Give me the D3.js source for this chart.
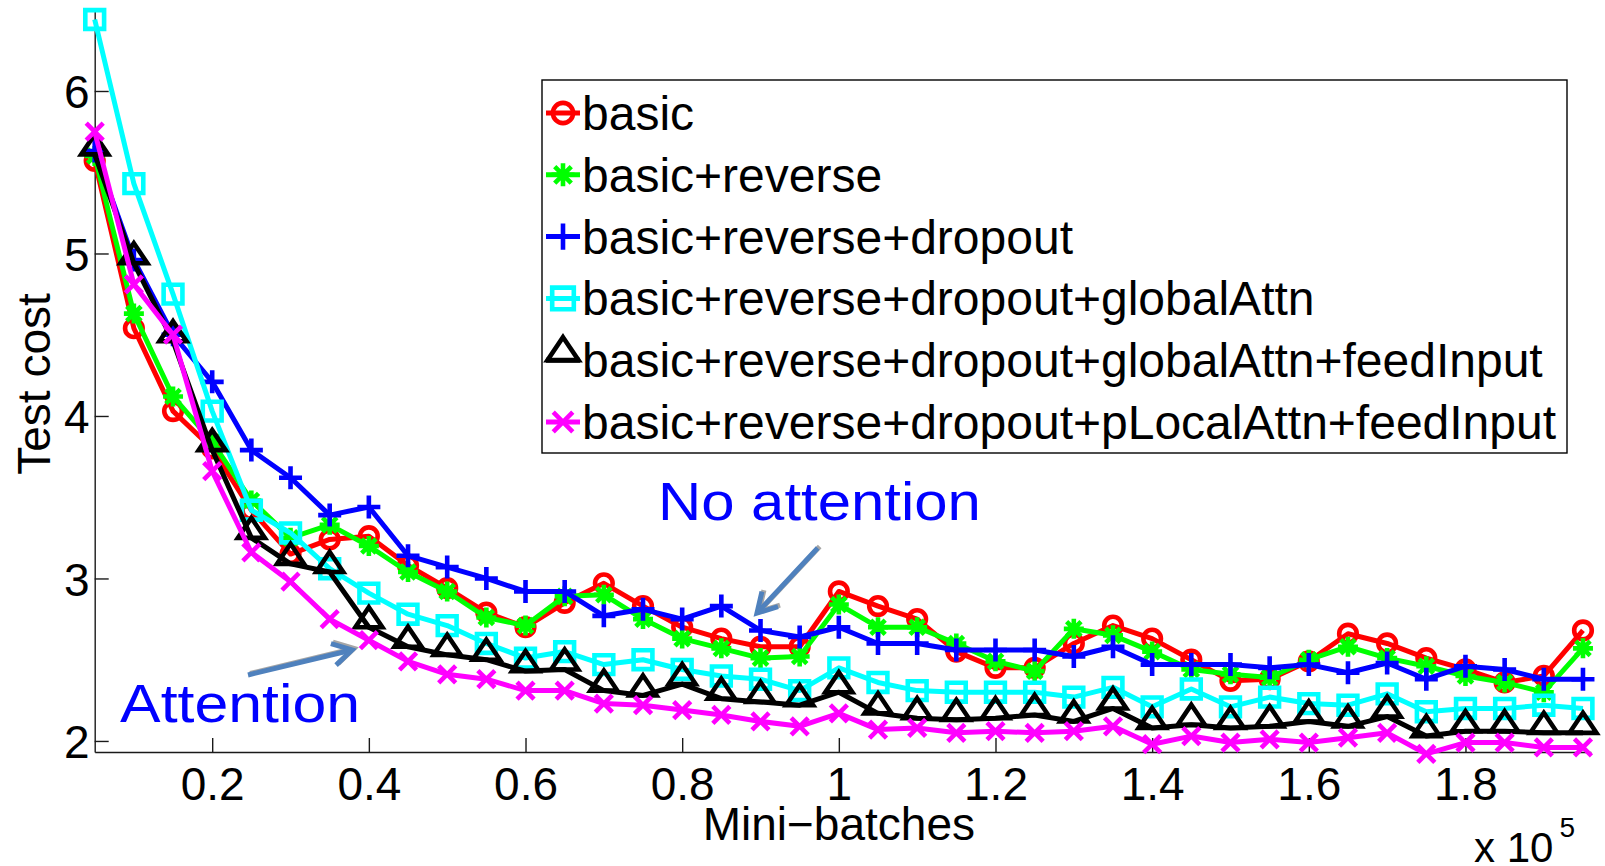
<!DOCTYPE html>
<html>
<head>
<meta charset="utf-8">
<script src="https://cdn.jsdelivr.net/npm/d3@7"></script>
<style>
  html, body { margin: 0; padding: 0; background: #ffffff; }
  svg { display: block; }
  text { font-family: "Liberation Sans", Arial, Helvetica, sans-serif; fill: #000; }
</style>
</head>
<body>
<svg id="chart" width="1605" height="866"></svg>
<script>
// Mini-batches (x 10^5)
const miniBatches = [0.05, 0.10, 0.15, 0.20, 0.25, 0.30, 0.35, 0.40, 0.45, 0.50,
                     0.55, 0.60, 0.65, 0.70, 0.75, 0.80, 0.85, 0.90, 0.95, 1.00,
                     1.05, 1.10, 1.15, 1.20, 1.25, 1.30, 1.35, 1.40, 1.45, 1.50,
                     1.55, 1.60, 1.65, 1.70, 1.75, 1.80, 1.85, 1.90, 1.95];

// Test cost per model
const basic = [5.57, 4.54, 4.03, 3.80, 3.42, 3.15, 3.24, 3.26, 3.08, 2.94,
               2.79, 2.70, 2.85, 2.97, 2.83, 2.70, 2.63, 2.58, 2.58, 2.92,
               2.83, 2.75, 2.55, 2.45, 2.45, 2.60, 2.71, 2.63, 2.50, 2.37,
               2.38, 2.49, 2.66, 2.60, 2.51, 2.44, 2.36, 2.40, 2.68];
const basicReverse = [5.60, 4.63, 4.12, 3.84, 3.48, 3.25, 3.33, 3.20, 3.04, 2.92,
                      2.76, 2.71, 2.89, 2.90, 2.75, 2.63, 2.57, 2.51, 2.52, 2.84,
                      2.70, 2.70, 2.60, 2.49, 2.43, 2.69, 2.65, 2.55, 2.44, 2.41,
                      2.39, 2.50, 2.58, 2.51, 2.46, 2.40, 2.36, 2.30, 2.57];
const basicReverseDropout = [5.63, 4.96, 4.50, 4.21, 3.79, 3.62, 3.39, 3.44, 3.14, 3.07,
                             3.00, 2.92, 2.92, 2.77, 2.81, 2.75, 2.83, 2.68, 2.64, 2.70,
                             2.60, 2.60, 2.56, 2.56, 2.56, 2.52, 2.58, 2.47, 2.47, 2.47,
                             2.45, 2.47, 2.42, 2.48, 2.38, 2.46, 2.44, 2.38, 2.38];
const globalAttn = [6.44, 5.43, 4.75, 4.03, 3.42, 3.28, 3.06, 2.91, 2.78, 2.71,
                    2.60, 2.51, 2.55, 2.47, 2.50, 2.44, 2.40, 2.38, 2.31, 2.45,
                    2.36, 2.31, 2.30, 2.30, 2.30, 2.27, 2.33, 2.21, 2.32, 2.21,
                    2.27, 2.23, 2.22, 2.29, 2.18, 2.20, 2.20, 2.22, 2.20];
const globalAttnFeedInput = [5.61, 4.94, 4.46, 3.79, 3.25, 3.09, 3.04, 2.70, 2.58, 2.53,
                             2.50, 2.43, 2.44, 2.31, 2.28, 2.35, 2.26, 2.24, 2.22, 2.30,
                             2.17, 2.14, 2.13, 2.14, 2.16, 2.12, 2.20, 2.08, 2.10, 2.08,
                             2.09, 2.12, 2.09, 2.15, 2.03, 2.06, 2.06, 2.05, 2.05];
const pLocalAttnFeedInput = [5.75, 4.81, 4.50, 3.66, 3.16, 2.98, 2.75, 2.62, 2.49, 2.41,
                             2.38, 2.31, 2.31, 2.23, 2.22, 2.19, 2.16, 2.12, 2.09, 2.17,
                             2.07, 2.08, 2.05, 2.06, 2.05, 2.06, 2.09, 1.98, 2.03, 1.99,
                             2.01, 1.99, 2.02, 2.05, 1.92, 1.99, 1.99, 1.96, 1.96];

const seriesNames = ["basic", "basic+reverse", "basic+reverse+dropout",
                     "basic+reverse+dropout+globalAttn",
                     "basic+reverse+dropout+globalAttn+feedInput",
                     "basic+reverse+dropout+pLocalAttn+feedInput"];
const seriesValues = [basic, basicReverse, basicReverseDropout, globalAttn,
                      globalAttnFeedInput, pLocalAttnFeedInput];
const seriesColors = ["#ff0000", "#00ff00", "#0000ff", "#00ffff", "#000000", "#ff00ff"];
const seriesMarkers = ["circle", "asterisk", "plus", "square", "triangle", "cross"];

const xTicks = [0.2, 0.4, 0.6, 0.8, 1.0, 1.2, 1.4, 1.6, 1.8];
const xTickLabels = ["0.2", "0.4", "0.6", "0.8", "1", "1.2", "1.4", "1.6", "1.8"];
const yTicks = [2, 3, 4, 5, 6];
const yTickLabels = ["2", "3", "4", "5", "6"];

const svg = d3.select("#chart");
const x = d3.scaleLinear().domain([0.05, 1.96]).range([94.7, 1590.8]);
const y = d3.scaleLinear().domain([1.932, 6.5]).range([752, 9.75]);

// ---- axes (ticks point inward, no box) ----
const axisColor = "#1a1a1a";
const yAxis = svg.append("g")
  .attr("transform", `translate(${x.range()[0]},0)`)
  .call(d3.axisLeft(y).tickValues(yTicks).tickFormat((d, i) => yTickLabels[i])
        .tickSizeInner(-14).tickSizeOuter(0).tickPadding(5));
const xAxis = svg.append("g")
  .attr("transform", `translate(0,${y.range()[0]})`)
  .call(d3.axisBottom(x).tickValues(xTicks).tickFormat((d, i) => xTickLabels[i])
        .tickSizeInner(-14).tickSizeOuter(0).tickPadding(5));
[xAxis, yAxis].forEach(g => {
  g.select(".domain").attr("stroke", axisColor).attr("stroke-width", 1.4);
  g.selectAll(".tick line").attr("stroke", axisColor).attr("stroke-width", 1.4);
  g.selectAll(".tick text")
    .attr("font-family", "'Liberation Sans', Arial, Helvetica, sans-serif")
    .attr("font-size", 46).attr("fill", "#000");
});
yAxis.selectAll(".tick text").attr("x", -5).attr("dy", 17);
xAxis.selectAll(".tick text").attr("y", 48).attr("dy", 0);

// axis titles
svg.append("text")
  .attr("transform", "translate(50,384) rotate(-90)")
  .attr("text-anchor", "middle").attr("font-size", 46)
  .text("Test cost");
svg.append("text")
  .attr("x", x(1.0)).attr("y", 840)
  .attr("text-anchor", "middle").attr("font-size", 46)
  .text("Mini\u2212batches");
const expLabel = svg.append("text").attr("x", 1474).attr("y", 862).attr("font-size", 42);
expLabel.append("tspan").text("x 10");
expLabel.append("tspan").attr("font-size", 28).attr("dy", -25).attr("dx", 6).text("5");

// ---- marker shapes ----
function markerPath(type, s) {
  const p = d3.path();
  switch (type) {
    case "circle":
      p.moveTo(8.8 * s, 0); p.arc(0, 0, 8.8 * s, 0, 2 * Math.PI); break;
    case "square": {
      const h = 9.4 * s;
      p.moveTo(-h, -h); p.lineTo(h, -h); p.lineTo(h, h); p.lineTo(-h, h); p.closePath(); break;
    }
    case "triangle":
      p.moveTo(0, -20 * s); p.lineTo(13.5 * s, 0); p.lineTo(-13.5 * s, 0); p.closePath(); break;
    case "plus": {
      const a = 11.5 * s;
      p.moveTo(-a, 0); p.lineTo(a, 0); p.moveTo(0, -a); p.lineTo(0, a); break;
    }
    case "cross": {
      const a = 8.5 * s;
      p.moveTo(-a, -a); p.lineTo(a, a); p.moveTo(-a, a); p.lineTo(a, -a); break;
    }
    case "asterisk": {
      const a = 10 * s, b = 7.2 * s;
      p.moveTo(-a, 0); p.lineTo(a, 0); p.moveTo(0, -a); p.lineTo(0, a);
      p.moveTo(-b, -b); p.lineTo(b, b); p.moveTo(-b, b); p.lineTo(b, -b); break;
    }
  }
  return p.toString();
}

// ---- series ----
const line = d3.line().x((d, i) => x(miniBatches[i])).y(d => y(d));
seriesValues.forEach((vals, si) => {
  const g = svg.append("g");
  g.append("path")
    .attr("d", line(vals))
    .attr("fill", "none")
    .attr("stroke", seriesColors[si])
    .attr("stroke-width", 5)
    .attr("stroke-linejoin", "round");
  g.selectAll("path.mk")
    .data(vals)
    .join("path")
    .attr("class", "mk")
    .attr("transform", (d, i) => `translate(${x(miniBatches[i])},${y(d)})`)
    .attr("d", markerPath(seriesMarkers[si], 1))
    .attr("fill", "none")
    .attr("stroke", seriesColors[si])
    .attr("stroke-width", 4.6)
    .attr("stroke-linejoin", "miter");
});

// ---- annotations ----
const arrowBlue = "#4f81bd";
function drawArrow(x0, y0, x1, y1) {
  const g = svg.append("g");
  const ang = Math.atan2(y1 - y0, x1 - x0);
  const len = 22, spread = Math.PI / 6;
  const head = `M${x1 - len * Math.cos(ang - spread)},${y1 - len * Math.sin(ang - spread)}` +
               `L${x1},${y1}` +
               `L${x1 - len * Math.cos(ang + spread)},${y1 - len * Math.sin(ang + spread)}`;
  [["#a6a6a6", 2, -1.5], [arrowBlue, 0, 0]].forEach(([c, dx, dy]) => {
    const sub = g.append("g").attr("transform", `translate(${dx},${dy})`);
    sub.append("line").attr("x1", x0).attr("y1", y0).attr("x2", x1).attr("y2", y1)
      .attr("stroke", c).attr("stroke-width", 5);
    sub.append("path").attr("d", head).attr("fill", "none")
      .attr("stroke", c).attr("stroke-width", 5).attr("stroke-linejoin", "miter");
  });
}
drawArrow(x(0.2457), y(2.406), x(0.3785), y(2.56));
drawArrow(x(0.973), y(3.187), x(0.8955), y(2.787));

svg.append("text")
  .attr("x", x(0.769)).attr("y", y(3.36))
  .attr("font-family", "Lato, 'Open Sans', sans-serif")
  .attr("font-size", 53)
  .attr("textLength", 323).attr("lengthAdjust", "spacingAndGlyphs")
  .style("fill", "#0000ff")
  .text("No attention");
svg.append("text")
  .attr("x", x(0.0824)).attr("y", y(2.117))
  .attr("font-family", "Lato, 'Open Sans', sans-serif")
  .attr("font-size", 53)
  .attr("textLength", 240).attr("lengthAdjust", "spacingAndGlyphs")
  .style("fill", "#0000ff")
  .text("Attention");

// ---- legend ----
const legend = svg.append("g");
legend.append("rect")
  .attr("x", 542).attr("y", 80).attr("width", 1025).attr("height", 373)
  .attr("fill", "#fff").attr("stroke", "#000").attr("stroke-width", 1.4);
seriesNames.forEach((name, i) => {
  const cy = 113 + i * 61.8;
  legend.append("line")
    .attr("x1", 546).attr("x2", 580).attr("y1", cy).attr("y2", cy)
    .attr("stroke", seriesColors[i]).attr("stroke-width", 5);
  legend.append("path")
    .attr("transform", `translate(563,${cy})`)
    .attr("d", markerPath(seriesMarkers[i], 1.15))
    .attr("fill", "none").attr("stroke", seriesColors[i]).attr("stroke-width", 4.6);
  legend.append("text")
    .attr("x", 582).attr("y", cy + 17)
    .attr("font-size", 48)
    .text(name);
});
</script>
</body>
</html>
